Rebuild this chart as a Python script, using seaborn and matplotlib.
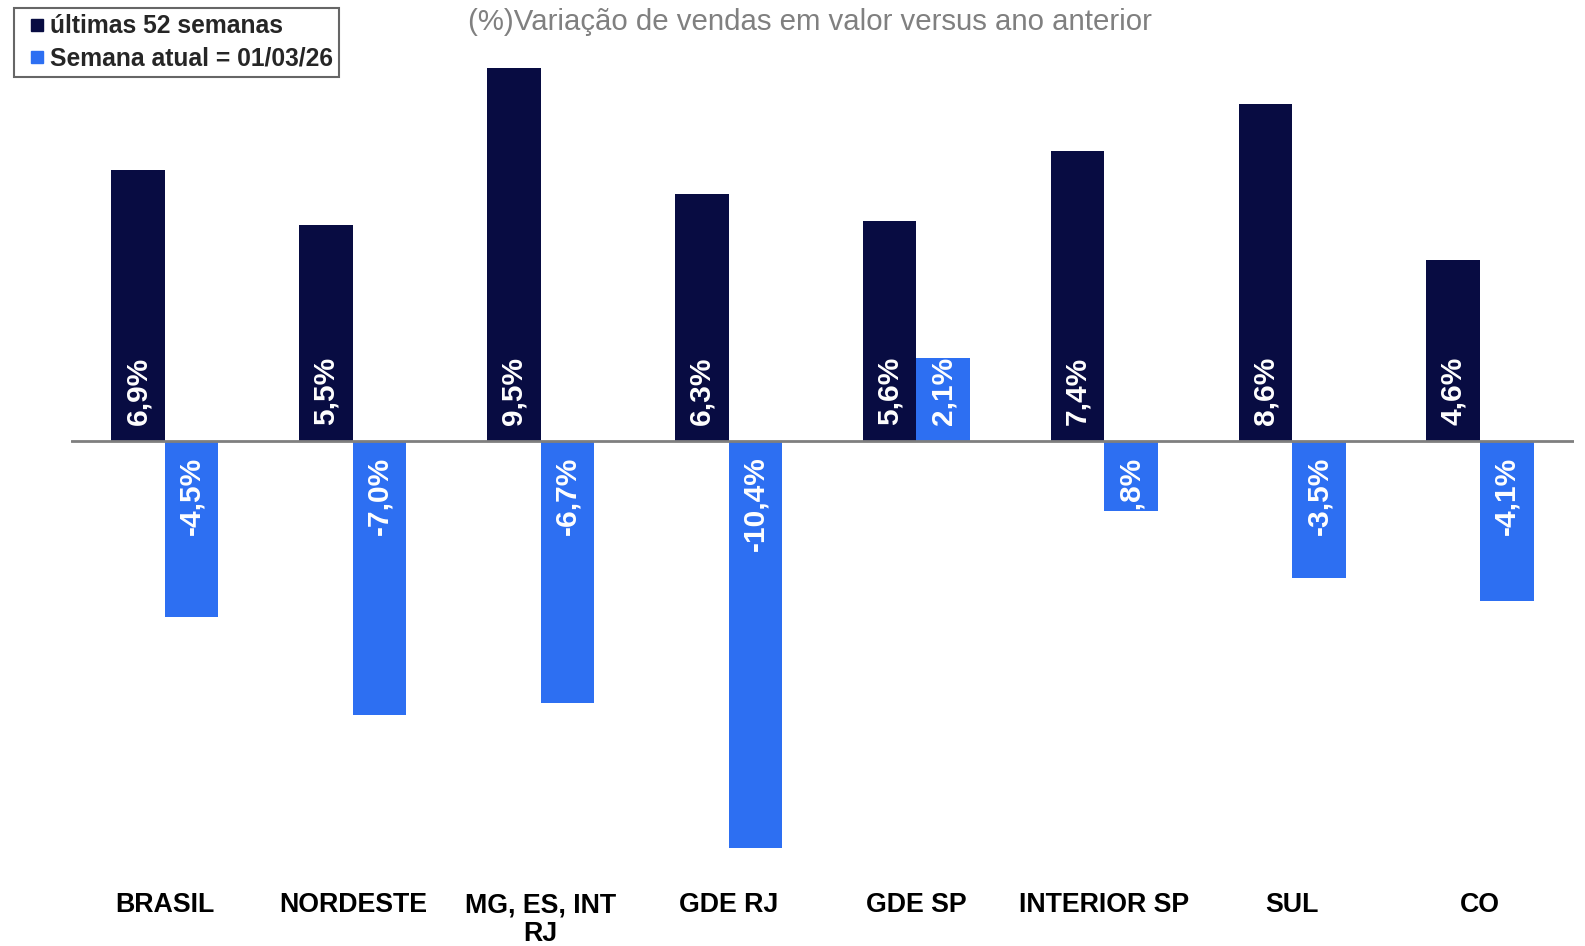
import matplotlib
matplotlib.use("Agg")
import matplotlib.pyplot as plt
from matplotlib.lines import Line2D
import seaborn as sns
import pandas as pd

categories = ["BRASIL", "NORDESTE", "MG, ES, INT\nRJ", "GDE RJ", "GDE SP", "INTERIOR SP", "SUL", "CO"]
series_names = ["últimas 52 semanas", "Semana atual = 01/03/26"]
last52 = [6.9, 5.5, 9.5, 6.3, 5.6, 7.4, 8.6, 4.6]
current_week = [-4.5, -7.0, -6.7, -10.4, 2.1, -1.8, -3.5, -4.1]
colors = ["#080C42", "#2D6FF2"]
title = "(%)Variação de vendas em valor versus ano anterior"

df = pd.DataFrame({
    "region": categories * 2,
    "value": last52 + current_week,
    "series": [series_names[0]] * len(categories) + [series_names[1]] * len(categories),
})

sns.set_style("white")
plt.rcParams["font.family"] = ["Liberation Sans", "DejaVu Sans"]

fig = plt.figure(figsize=(15.85, 9.46), dpi=100)
ax = fig.add_axes([0.0448, 0.0783, 0.9482, 0.8702])

sns.barplot(data=df, x="region", y="value", hue="series", order=categories,
            hue_order=series_names, palette=colors, width=0.57, gap=0,
            saturation=1, errorbar=None, legend=False, ax=ax,
            linewidth=0, edgecolor="none")

ax.set_xlim(-0.5, len(categories) - 0.5)
ax.set_ylim(-11, 10)
ax.axhline(0, color="#7f7f7f", lw=2, zorder=3)

for container, vals in zip(ax.containers, [last52, current_week]):
    for bar, v in zip(container, vals):
        txt = f"{v:.1f}%".replace(".", ",")
        cx = bar.get_x() + bar.get_width() / 2
        if v >= 0:
            t = ax.annotate(txt, (cx, 0), xytext=(0, 11.5), textcoords="offset points",
                            rotation=90, ha="center", va="bottom", color="white",
                            fontsize=21.5, fontweight="bold", zorder=4)
        else:
            t = ax.annotate(txt, (cx, 0), xytext=(0, -11.5), textcoords="offset points",
                            rotation=90, ha="center", va="top", color="white",
                            fontsize=21.5, fontweight="bold", zorder=4)
        t.set_clip_on(True)
        t.set_clip_path(bar)

for s in ax.spines.values():
    s.set_visible(False)
ax.set_yticks([])
ax.set_xlabel("")
ax.set_ylabel("")
ax.tick_params(axis="x", length=0, pad=14.5)
ax.set_xticks(range(len(categories)))
ax.set_xticklabels(categories, fontsize=19.3, fontweight="bold", color="black",
                   linespacing=1.15)

handles = [Line2D([0], [0], marker="s", linestyle="none", markersize=8,
                  markerfacecolor=c, markeredgecolor=c) for c in colors]
leg = fig.legend(handles, series_names, loc="upper left",
                 bbox_to_anchor=(14 / 1585, 1 - 8 / 946), frameon=True, fancybox=False,
                 prop={"size": 17.7, "weight": "bold"}, handlelength=1.4,
                 handletextpad=-0.2, borderpad=0.25, labelspacing=0.35,
                 borderaxespad=0)
leg.get_frame().set_edgecolor("#404040")
leg.get_frame().set_linewidth(1.5)

fig.text(810 / 1585, 1 - 22 / 946, title, ha="center", va="center",
         color="#808080", fontsize=21.2)

fig.savefig("out.png", dpi=100)
